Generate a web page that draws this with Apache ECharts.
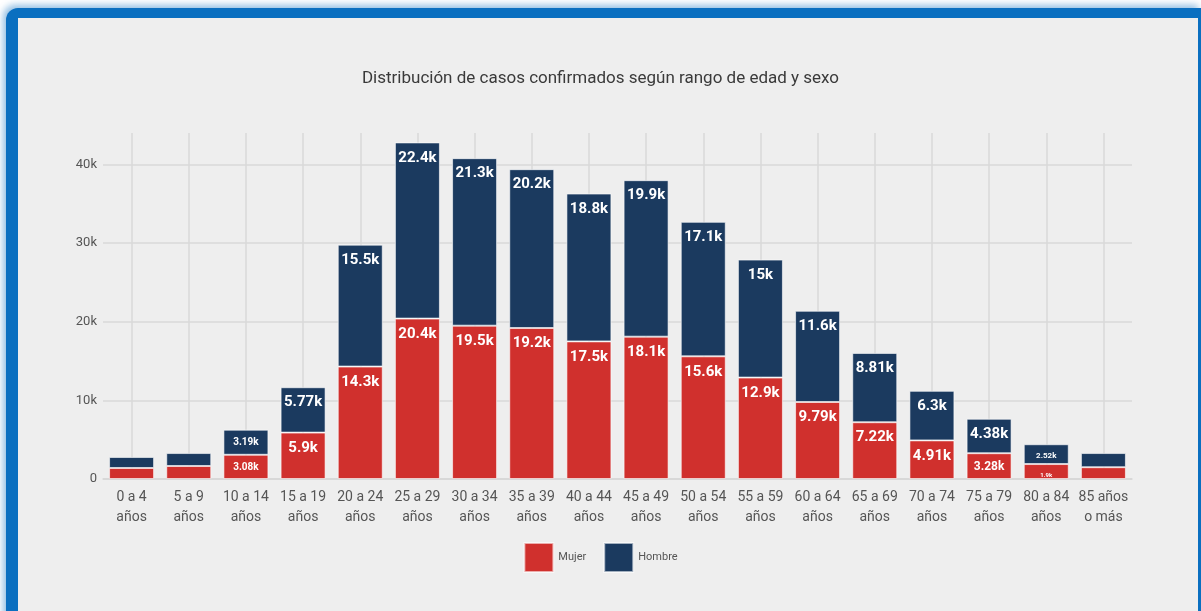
<!DOCTYPE html>
<html><head><meta charset="utf-8">
<script src="https://cdn.jsdelivr.net/npm/echarts@6/dist/echarts.min.js"></script>
<style>
html,body{margin:0;padding:0;background:#fff;width:1201px;height:611px;overflow:hidden;}
#frame{position:absolute;left:6px;top:8px;width:1180px;height:620px;background:#eeeeee;border-left:12px solid #0a6fc0;border-top:10px solid #0a6fc0;border-right:3px solid #0a6fc0;border-top-left-radius:12px;box-shadow:-3px -3px 7px rgba(10,111,192,0.45);}
#chart{position:absolute;left:0;top:0;width:1201px;height:611px;}
</style></head>
<body>
<div id="frame"></div>
<div id="chart"></div>
<script>
const categories = ["0 a 4\naños","5 a 9\naños","10 a 14\naños","15 a 19\naños","20 a 24\naños","25 a 29\naños","30 a 34\naños","35 a 39\naños","40 a 44\naños","45 a 49\naños","50 a 54\naños","55 a 59\naños","60 a 64\naños","65 a 69\naños","70 a 74\naños","75 a 79\naños","80 a 84\naños","85 años\no más"];
const mujer = [1.4,1.65,3.08,5.9,14.3,20.4,19.5,19.2,17.5,18.1,15.6,12.9,9.79,7.22,4.91,3.28,1.9,1.5];
const hombre = [1.4,1.65,3.19,5.77,15.5,22.4,21.3,20.2,18.8,19.9,17.1,15,11.6,8.81,6.3,4.38,2.52,1.8];
const yTicks = [0,10,20,30,40];

const FONT = "Roboto,sans-serif";
function labelSize(v){
  if (v >= 4.3) return 15;
  if (v >= 3.9) return 14;
  if (v >= 3.25) return 12;
  if (v >= 3.0) return 10;
  if (v >= 2.4) return 8;
  if (v >= 1.85) return 6;
  return 0;
}
function toItems(arr){
  return arr.map(v => {
    const s = labelSize(v);
    return {value: v*1000, label: s ? {show:true, fontSize:s} : {show:false}};
  });
}
function fmt(v){
  return (+(v/1000).toPrecision(3)) + 'k';
}
const chart = echarts.init(document.getElementById('chart'), null, {renderer:'canvas'});
chart.setOption({
  backgroundColor:'transparent',
  animation:false,
  title:{text:'Distribución de casos confirmados según rango de edad y sexo',left:'center',top:65,
    textStyle:{fontFamily:"Roboto,sans-serif",fontWeight:'normal',fontSize:17,color:'#3a3a3a'}},
  legend:{bottom:33,left:'center',itemWidth:29,itemHeight:29,itemGap:17,icon:'rect',
    textStyle:{fontFamily:FONT,fontSize:11,color:'#555'},data:['Mujer','Hombre']},
  grid:{left:103,right:69,top:133,bottom:132},
  xAxis:{type:'category',data:categories,
    axisLine:{show:true,lineStyle:{color:'#d6d6d6',width:1.5}},
    axisTick:{show:false},
    splitLine:{show:true,alignWithLabel:true,lineStyle:{color:'#d8d8d8',width:1.5}},
    axisLabel:{interval:0,fontFamily:FONT,fontSize:14,color:'#555',lineHeight:20,margin:8}},
  yAxis:{type:'value',min:0,max:44000,interval:10000,
    axisLine:{show:false},axisTick:{show:false},
    splitLine:{show:true,showMaxLine:false,lineStyle:{color:'#d8d8d8',width:1.5}},
    axisLabel:{showMaxLabel:false,fontFamily:FONT,fontSize:13,color:'#555',margin:6,
      formatter:v=> v===0 ? '0' : (v/1000)+'k'}},
  series:[
    {name:'Mujer',type:'bar',stack:'t',barWidth:45,data:toItems(mujer),
      itemStyle:{color:'#d0302d',borderColor:'rgba(255,255,255,0.6)',borderWidth:1},
      label:{show:true,position:'insideTop',distance:8,color:'#fff',fontWeight:'bold',fontFamily:FONT,
        formatter:p=>fmt(p.value)}},
    {name:'Hombre',type:'bar',stack:'t',barWidth:45,data:toItems(hombre),
      itemStyle:{color:'#1b3a5f',borderColor:'rgba(255,255,255,0.6)',borderWidth:1},
      label:{show:true,position:'insideTop',distance:8,color:'#fff',fontWeight:'bold',fontFamily:FONT,
        formatter:p=>fmt(p.value)}}
  ]
});
</script>
</body></html>
